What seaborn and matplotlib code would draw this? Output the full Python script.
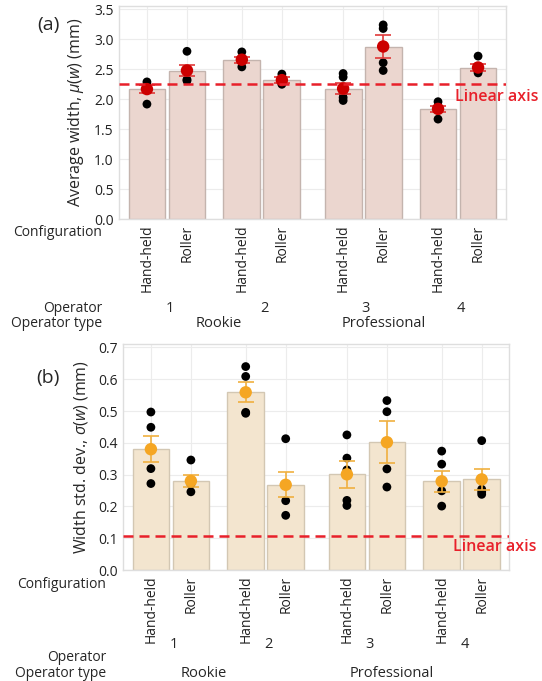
import numpy as np
import pandas as pd
import matplotlib
matplotlib.use("Agg")
import matplotlib.pyplot as plt
import matplotlib.transforms as mtransforms
import seaborn as sns

# ---------------- data ----------------
operators = ["1", "1", "2", "2", "3", "3", "4", "4"]
operator_types = ["Rookie", "Rookie", "Rookie", "Rookie",
                  "Professional", "Professional", "Professional", "Professional"]
configurations = ["Hand-held", "Roller"] * 4

width_mean = [2.17, 2.48, 2.66, 2.32, 2.18, 2.88, 1.84, 2.53]
width_se = [0.065, 0.095, 0.05, 0.05, 0.09, 0.195, 0.05, 0.058]
width_points = [
    [2.29, 2.24, 2.21, 1.92],
    [2.80, 2.50, 2.33, 2.31],
    [2.79, 2.68, 2.63, 2.54],
    [2.42, 2.33, 2.30, 2.25],
    [2.43, 2.37, 2.10, 2.03, 1.98],
    [3.24, 3.18, 2.61, 2.48],
    [1.96, 1.88, 1.85, 1.67],
    [2.72, 2.50, 2.47, 2.44],
]

sd_mean = [0.380, 0.280, 0.559, 0.268, 0.301, 0.402, 0.279, 0.285]
sd_se = [0.040, 0.018, 0.031, 0.039, 0.042, 0.066, 0.033, 0.033]
sd_points = [
    [0.497, 0.449, 0.319, 0.272],
    [0.346, 0.283, 0.270, 0.246],
    [0.640, 0.609, 0.496, 0.493],
    [0.413, 0.270, 0.218, 0.172],
    [0.425, 0.352, 0.315, 0.219, 0.203],
    [0.533, 0.498, 0.318, 0.261],
    [0.374, 0.333, 0.249, 0.201],
    [0.407, 0.254, 0.246, 0.238],
]

width_ref = 2.25
sd_ref = 0.108

# ---------------- layout ----------------
sns.set_style("whitegrid")
plt.rcParams["font.family"] = ["Open Sans", "DejaVu Sans"]
plt.rcParams["mathtext.fontset"] = "custom"
plt.rcParams["mathtext.rm"] = "Open Sans"
plt.rcParams["mathtext.it"] = "Open Sans:italic"

W, H = 542, 681
fig = plt.figure(figsize=(W / 100, H / 100), dpi=100)

# x positions derived from operator / configuration index
op_index = [int(o) - 1 for o in operators]
cfg_index = [0 if c == "Hand-held" else 1 for c in configurations]
prof = [1 if t == "Professional" else 0 for t in operator_types]
pos = [o * 2.37 + c + 0.16 * p for o, c, p in zip(op_index, cfg_index, prof)]


def fx(px):
    return px / W


def fy(py):
    return 1 - py / H


def panel(rect, means, ses, points, ylim, yticks, bar_color, edge_color,
          mean_color, err_color, ref, ylabel, letter, letter_y,
          rows, rookie_x, prof_x, label_right):
    ax = fig.add_axes(rect)
    sns.barplot(x=pos, y=means, native_scale=True, width=0.92, color=bar_color,
                edgecolor=edge_color, linewidth=1.0, errorbar=None, ax=ax,
                saturation=1, zorder=2)
    px, py = [], []
    for p, pts in zip(pos, points):
        px += [p] * len(pts)
        py += pts
    sns.scatterplot(x=px, y=py, color="black", s=40, edgecolor="none",
                    ax=ax, zorder=4)
    ax.errorbar(pos, means, yerr=ses, fmt="none", ecolor=err_color,
                elinewidth=1.2, capsize=5.5, capthick=1.2, zorder=5)
    sns.scatterplot(x=pos, y=means, color=mean_color, s=80, edgecolor="none",
                    ax=ax, zorder=6)
    ax.axhline(ref, color="#e8202a", lw=1.8, ls=(0, (4, 2.4)), zorder=7)

    ax.set_xlim(-0.69, 8.96)
    ax.set_ylim(*ylim)
    ax.set_yticks(yticks)
    ax.set_yticklabels([f"{t:.1f}" for t in yticks], fontsize=10)
    ax.set_xticks(pos)
    ax.set_xticklabels(configurations, rotation=90, fontsize=10, va="top")
    ax.tick_params(axis="both", length=0, colors="#222222")
    ax.tick_params(axis="x", pad=4)
    ax.tick_params(axis="y", pad=4)
    ax.grid(True, color="#ececec", lw=0.8)
    ax.set_axisbelow(True)
    for s in ax.spines.values():
        s.set_color("#dedede")
        s.set_linewidth(1.0)
    ax.set_xlabel("")
    ax.set_ylabel(ylabel, fontsize=11.5, labelpad=6)

    fig.text(fx(48), fy(letter_y), letter, fontsize=14, ha="center", va="center")

    bt = mtransforms.blended_transform_factory(ax.transData, fig.transFigure)
    conf_y, num_y, op_y, type_y = rows
    fig.text(fx(label_right), fy(conf_y), "Configuration", fontsize=10,
             ha="right", va="center")
    fig.text(fx(label_right), fy(op_y), "Operator", fontsize=10,
             ha="right", va="center")
    fig.text(fx(label_right), fy(type_y), "Operator type", fontsize=10,
             ha="right", va="center")
    for k in range(0, 8, 2):
        ax.text((pos[k] + pos[k + 1]) / 2 + 0.07, fy(num_y), operators[k],
                transform=bt, fontsize=10.5, ha="center", va="center")
    ax.text(rookie_x, fy(type_y), "Rookie", transform=bt, fontsize=10.5,
            ha="center", va="center")
    ax.text(prof_x, fy(type_y), "Professional", transform=bt, fontsize=10.5,
            ha="center", va="center")
    return ax


ax1 = panel([fx(119.3), fy(219.3), fx(505.7) - fx(119.3), fy(6) - fy(219.3)],
            width_mean, width_se, width_points, (0, 3.555),
            [0.0, 0.5, 1.0, 1.5, 2.0, 2.5, 3.0, 3.5],
            "#ebd6cf", "#c4b4ae", "#cc0000", "#e03a3a", width_ref,
            r"Average width, $\mu(w)$ (mm)", "(a)", 25,
            (233, 308.3, 308.3, 323.3), 1.8, 5.92, 102)
fig.text(fx(455), fy(96.7), "Linear axis", color="#e8202a", fontsize=11.5,
         fontweight="semibold", ha="left", va="center")

ax2 = panel([fx(123.3), fy(570), fx(509.3) - fx(123.3), fy(344) - fy(570)],
            sd_mean, sd_se, sd_points, (0, 0.711),
            [0.0, 0.1, 0.2, 0.3, 0.4, 0.5, 0.6, 0.7],
            "#f3e5cf", "#d3c7b3", "#f5a623", "#f0b040", sd_ref,
            r"Width std. dev., $\sigma(w)$ (mm)", "(b)", 378,
            (585, 645, 657.3, 673.3), 1.33, 6.03, 106)
fig.text(fx(453), fy(547.3), "Linear axis", color="#e8202a", fontsize=11.5,
         fontweight="semibold", ha="left", va="center")

fig.savefig("out.png", dpi=100)
